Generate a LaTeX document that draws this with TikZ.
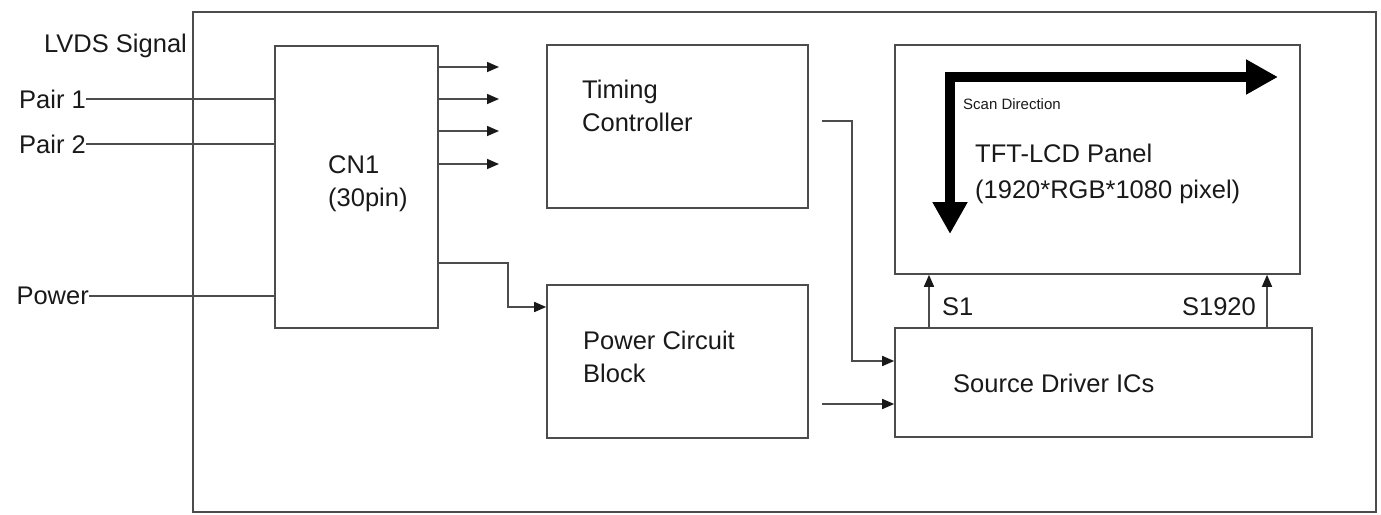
\documentclass[tikz,border=0pt]{standalone}
\usepackage{fontspec}
\setmainfont{Liberation Sans}
\usetikzlibrary{arrows.meta}
\begin{document}
\begin{tikzpicture}[x=1pt,y=-1pt,
  every node/.style={font=\fontsize{25.5}{33}\selectfont, text=black!90, inner sep=0pt},
  blk/.style={draw=black!70, line width=1.6pt, rectangle},
  ln/.style={draw=black!70, line width=1.6pt},
  arr/.style={ln, -{Triangle[length=12pt,width=10pt,fill=black!90,color=black!90]}},
  lbl/.style={align=left, anchor=west},
  bigarr/.style={line width=10pt, line join=miter, draw=black,
     {Triangle[length=32pt,width=33pt]}-{Triangle[length=32pt,width=33pt]}}
]
\useasboundingbox (0,0) rectangle (1381,514);
% frame
\node[blk, minimum width=1183pt, minimum height=500pt] (frame) at (784.5,262) {};
% blocks
\node[blk, minimum width=163pt, minimum height=282pt] (cn1) at (356.5,187) {};
\node[blk, minimum width=261pt, minimum height=163pt] (tc) at (677.5,126.5) {};
\node[blk, minimum width=261pt, minimum height=153pt] (pcb) at (677.5,361.5) {};
\node[blk, minimum width=405pt, minimum height=229pt] (tft) at (1097.5,159.5) {};
\node[blk, minimum width=417pt, minimum height=109pt] (sd) at (1103.5,382.5) {};
% texts
\node[lbl] (cn1t) at (328,184) {CN1\\(30pin)};
\node[lbl] (tct) at (582,106) {Timing\\Controller};
\node[lbl] (pcbt) at (583,357) {Power Circuit\\Block};
\node[lbl] (sdt) at (953,383) {Source Driver ICs};
\node[lbl, font=\fontsize{25.5}{36}\selectfont] (tftt) at (975,174) {TFT-LCD Panel\\(1920*RGB*1080 pixel)};
\node[lbl, font=\fontsize{15}{17}\selectfont] (scan) at (963,104) {Scan Direction};
\node[lbl] (lvds) at (44,46) {LVDS Signal};
% inputs
\coordinate (p1) at (86,99);
\coordinate (p2) at (86,144);
\coordinate (pw) at (89,296);
\node[anchor=east] (p1t) at (p1) {Pair 1};
\node[anchor=east] (p2t) at (p2) {Pair 2};
\node[anchor=east] (pwt) at (pw) {Power};
\draw[ln] (p1) -- (p1 -| cn1.west);
\draw[ln] (p2) -- (p2 -| cn1.west);
\draw[ln] (pw) -- (pw -| cn1.west);
% CN1 to timing controller
\foreach \y/\n in {67/a,99/b,131/c,164/d}{
  \coordinate (e\n) at (499,\y);
  \draw[arr] (cn1.east |- e\n) -- (e\n);
}
% CN1 to power circuit
\coordinate (pc1) at (508,263);
\coordinate (pc2) at (508,307);
\draw[arr] (cn1.east |- pc1) -- (pc1) -- (pc2) -- (pc2 -| pcb.west);
% timing to source driver
\coordinate (t1) at (822,121);
\coordinate (t2) at (852,121);
\coordinate (t3) at (852,361);
\draw[arr] (t1) -- (t2) -- (t3) -- (t3 -| sd.west);
% power to source driver
\coordinate (q1) at (822,404);
\draw[arr] (q1) -- (q1 -| sd.west);
% S1 / S1920
\coordinate (s1) at (929,0);
\coordinate (s2) at (1267,0);
\draw[arr] (sd.north -| s1) -- (tft.south -| s1);
\draw[arr] (sd.north -| s2) -- (tft.south -| s2);
\node[anchor=west] (s1t) at (942,307) {S1};
\node[anchor=east] (s2t) at (1256,307) {S1920};
% scan direction arrow
\coordinate (sc) at (950,77);
\coordinate (sv) at (950,234);
\coordinate (sh) at (1278,77);
\draw[bigarr] (sv) -- (sc) -- (sh);
\end{tikzpicture}
\end{document}
